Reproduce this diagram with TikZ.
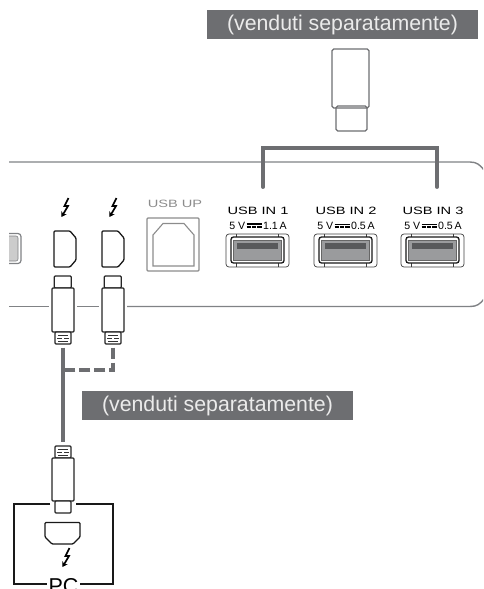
\documentclass[tikz,border=0pt]{standalone}
\usepackage{fontspec}
\setmainfont{Liberation Sans}
\newfontfamily\widefont[FakeStretch=1.38]{Liberation Sans}
\usetikzlibrary{positioning,arrows.meta}
\definecolor{bannergray}{HTML}{6D6E71}
\definecolor{panelgray}{HTML}{808285}
\definecolor{fillgray}{HTML}{9A9B9D}
\definecolor{bargray}{HTML}{58595B}
\newcommand{\dcsym}{\rlap{\rule[4.8pt]{15pt}{1.3pt}}\rule[2pt]{4.3pt}{1.3pt}\hspace{1pt}\rule[2pt]{4.3pt}{1.3pt}\hspace{1pt}\rule[2pt]{4.3pt}{1.3pt}}

\begin{document}
\begin{tikzpicture}[
    x=1pt, y=-1pt,
    banner/.style={fill=bannergray, text=white!92!black, font=\fontsize{21.3}{22}\selectfont, minimum height=29pt, inner sep=0pt},
    panel/.style={draw=panelgray, line width=1.4pt},
    cable/.style={draw=bannergray, line width=3.9pt},
    dashcable/.style={cable, line width=3.4pt, dash pattern=on 11pt off 4pt},
    dongle/.style={draw=bannergray, line width=1.3pt, rounded corners=1.8pt, fill=white, inner sep=0pt},
    plugbody/.style={draw=black!85, line width=1.3pt, rounded corners=1pt, fill=white, inner sep=0pt, minimum width=22pt},
    plugtip/.style={plugbody, minimum width=17pt},
    plugtail/.style={plugbody, minimum width=16pt, minimum height=12pt,
        path picture={
            \draw[black!80, line width=1pt]
                ([xshift=-5pt,yshift=-3pt]path picture bounding box.center) -- ++(10,0)
                ([xshift=-6pt]path picture bounding box.center) -- ++(5,0) ++(2,0) -- ++(5,0)
                ([xshift=-5pt,yshift=3pt]path picture bounding box.center) -- ++(10,0);
        }},
    usbtitle/.style={font=\widefont\fontsize{10.6}{11}\selectfont, inner sep=0pt},
    usbrate/.style={font=\fontsize{10.6}{11}\selectfont, inner sep=0pt},
    usbouter/.style={draw=black!75, line width=.7pt, rounded corners=3pt, minimum width=63pt, minimum height=33pt, inner sep=0pt},
    usbmid/.style={draw=black!90, line width=1.3pt, rounded corners=2.5pt, fill=white, minimum width=53pt, minimum height=26pt, inner sep=0pt},
    usbinner/.style={draw=black!60, line width=.5pt, fill=fillgray, minimum width=48pt, minimum height=20pt, inner sep=0pt},
    usbbar/.style={fill=bargray, minimum width=41pt, minimum height=6pt, inner sep=0pt},
    bolt/.pic={
        \draw[black, line width=1.7pt, line join=miter, -{Stealth[length=5pt,width=6pt]}]
            (3.5,-10) -- (-.5,-2) -- (3,-2) -- (-3.5,9);
    },
    dport/.pic={
        \draw[black!90, line width=1.3pt, rounded corners=1pt]
            (-11,-18) -- (5,-18) -- (11,-11) -- (11,11) -- (5,18) -- (-11,18) -- cycle;
    }
]
    \clip (0,0) rectangle (483,589);
    \useasboundingbox (0,0) rectangle (483,589);

    % front panel
    \draw[panel] (9,162) -- (470,162) .. controls (477,162) and (480,165) .. (484,170);
    \draw[panel] (9,306.5) -- (49,306.5);
    \draw[panel] (77,306.5) -- (99,306.5);
    \draw[panel] (127,306.5) -- (470,306.5) .. controls (477,306.5) and (480,304) .. (484,299);

    % banners
    \node[banner, minimum width=271pt] (topbanner) at (342.5,24.5) {(venduti separatamente)};
    \node[banner, minimum width=271pt] (lowbanner) at (217.5,405.5) {(venduti separatamente)};

    % usb stick
    \node[dongle, minimum width=31pt, minimum height=25pt] (sticktip) at (351.5,118.5) {};
    \node[dongle, minimum width=37pt, minimum height=59pt, fill=none] (stickbody) at (350.5,78.5) {};

    % bracket to the usb ports
    \coordinate (plugleft) at (263,187);
    \coordinate (plugright) at (437,187);
    \coordinate (bracket) at (350,148);
    \draw[cable, line cap=round] (plugleft) |- (bracket) -| (plugright);

    % left port, cut off
    \draw[draw=panelgray, line width=1.2pt, fill=white, rounded corners=3pt] (9,233.5) -- (21,233.5) -- (21,263.5) -- (9,263.5);
    \draw[draw=panelgray, line width=.6pt, fill=black!20, rounded corners=2pt] (9,236) -- (18,236) -- (18,261) -- (9,261);

    % thunderbolt ports
    \pic at (65,208) {bolt};
    \pic at (113,208) {bolt};
    \pic at (65,249) {dport};
    \pic at (113,249) {dport};

    % usb up
    \node[text=black!45, font=\widefont\fontsize{10.6}{11}\selectfont, inner sep=0pt] (usbup) at (175,204) {USB UP};
    \node[draw=black!45, line width=1.1pt, rounded corners=1pt, minimum width=52pt, minimum height=53pt, inner sep=0pt] (usbb) at (173,244.5) {};
    \draw[draw=black!45, line width=1.1pt] (153,266) -- (153,235) -- (163,223.5) -- (184,223.5) -- (194,235) -- (194,266) -- cycle;

    % usb in ports
    \foreach \nm/\x/\lab/\amp in {A/257.5/1/1.1, B/345.5/2/0.5, C/432.5/3/0.5} {
        \node[usbtitle] (title\nm) at (\x+.5,211) {USB IN \lab};
        \node[usbrate] (rate\nm) at (\x+.5,226) {5 V\hspace{1.5pt}\dcsym\hspace{1.5pt}\amp\,A};
        \node[usbouter] (outer\nm) at (\x,250.5) {};
        \draw[black!75, line width=.7pt] (\x-21,234) -- (\x-21,267) (\x+21,234) -- (\x+21,267);
        \node[usbmid] (mid\nm) at (\x,250) {};
        \node[usbinner] (inner\nm) at (\x,250) {};
        \node[usbbar] (bar\nm) at (\x,246) {};
    }

    % upper plugs
    \node[plugtip, minimum height=12pt] (tipA) at (62.7,282) {};
    \node[plugbody, minimum height=44pt] (bodyA) at (63,310) {};
    \node[plugtail] (tailA) at (63,338) {};
    \node[plugtip, minimum height=12pt] (tipB) at (112.7,282) {};
    \node[plugbody, minimum height=44pt] (bodyB) at (113,310) {};
    \node[plugtail] (tailB) at (113,338) {};

    % lower plug
    \node[plugtail] (tailC) at (63,452) {};
    \node[plugbody, minimum height=43pt] (bodyC) at (63,479.5) {};

    % pc box
    \coordinate (pcgapl) at (50,504);
    \coordinate (pcgapr) at (76,504);
    \draw[black!90, line width=1.3pt] (pcgapl) -- (14,504) -- (14,584) -- (47,584);
    \draw[black!90, line width=1.3pt] (pcgapr) -- (113,504) -- (113,584) -- (80,584);
    \node[plugtip, minimum width=16pt, minimum height=12pt] (tipC) at (63,507) {};
    \draw[black!90, line width=1.3pt, rounded corners=1pt] (45,522.5) -- (80,522.5) -- (80,537) -- (73,544) -- (52,544) -- (45,537) -- cycle;
    \pic at (66,558) {bolt};
    \node[anchor=base, font=\fontsize{21.5}{22}\selectfont, inner sep=0pt] (pc) at (63.5,593.5) {PC};

    % cables
    \coordinate (joint) at (63,370);
    \draw[cable, shorten <=3pt, shorten >=3pt] (tailA.south) -- (tailC.north);
    \draw[dashcable] (tailB.south) ++(0,3) |- (joint);
\end{tikzpicture}
\end{document}
